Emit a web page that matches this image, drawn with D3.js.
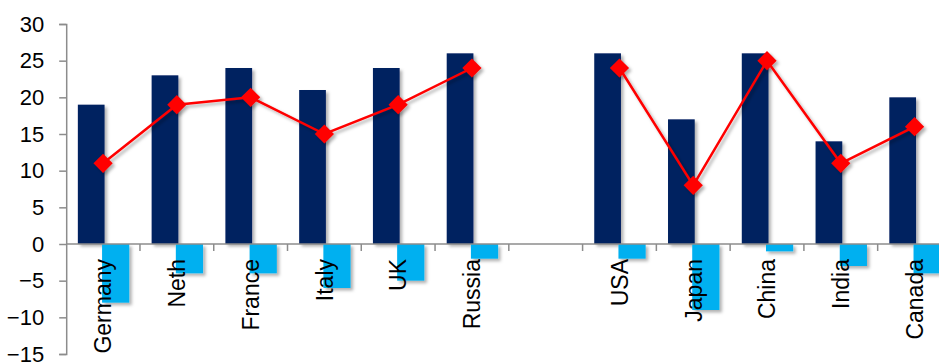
<!DOCTYPE html>
<html><head><meta charset="utf-8">
<script src="https://cdn.jsdelivr.net/npm/d3@7"></script>
<style>
html,body{margin:0;padding:0;background:#fff;overflow:hidden}
svg{display:block;font-family:"Liberation Sans",Arial,sans-serif}
</style></head>
<body><svg id="c" width="939" height="363"></svg>
<script>
const categories = ["Germany","Neth","France","Italy","UK","Russia","","USA","Japan","China","India","Canada"];
const seriesA = [19,23,24,21,24,26,null,26,17,26,14,20];      // navy bars
const seriesB = [-8,-4,-4,-6,-5,-2,null,-2,-9,-1,-3,-4];      // light blue bars
const seriesLine = [11,19,20,15,19,24,null,24,8,25,11,16];    // red line
const yTicks = [-15,-10,-5,0,5,10,15,20,25,30];

(function(){
const svg = d3.select("#c");
const mLeft = 66.2, mTop = 24, mBottom = 354;
const slot = 73.77;
const x = d3.scaleBand().domain(d3.range(categories.length)).range([mLeft, mLeft + slot*categories.length]).paddingInner(0).paddingOuter(0);
const y = d3.scaleLinear().domain([-15,30]).range([mBottom, mTop]);
const sub = d3.scaleBand().domain(["a","b"]).range([x.bandwidth()*0.158, x.bandwidth()*0.855]);

const defs = svg.append("defs");
const f = defs.append("filter").attr("id","sh").attr("x","-30%").attr("y","-30%").attr("width","160%").attr("height","160%");
f.append("feDropShadow").attr("dx",2.5).attr("dy",2.5).attr("stdDeviation",1.8).attr("flood-color","#000").attr("flood-opacity",0.3);

// y axis
const yAxis = svg.append("g").attr("transform",`translate(${mLeft},0)`)
  .call(d3.axisLeft(y).tickValues(yTicks).tickSize(7).tickPadding(15).tickFormat(d3.format("d")));
yAxis.select(".domain").attr("stroke","#8c8c8c").attr("stroke-width",1.5);
yAxis.selectAll(".tick line").attr("stroke","#8c8c8c").attr("stroke-width",1.5);
yAxis.selectAll(".tick text").attr("font-size",22).attr("fill","#000").attr("font-family","Liberation Sans, Arial, sans-serif");

const idx = d3.range(categories.length);

// bars
const gb = svg.append("g").attr("filter","url(#sh)");
const bw = sub.bandwidth();
gb.selectAll("rect.a").data(idx.filter(i=>seriesA[i]!=null)).join("rect")
  .attr("x",i=>x(i)+sub("a")).attr("width",bw+1)
  .attr("y",i=>y(seriesA[i])).attr("height",i=>y(0)-y(seriesA[i]))
  .attr("fill","#002060");
gb.selectAll("rect.b").data(idx.filter(i=>seriesB[i]!=null)).join("rect")
  .attr("x",i=>x(i)+sub("b")-1.5).attr("width",bw+1.5)
  .attr("y",y(0)).attr("height",i=>y(seriesB[i])-y(0))
  .attr("fill","#00b0f0");

// x axis (zero line)
const xAxis = svg.append("g").attr("transform",`translate(0,${y(0)})`);
xAxis.append("line").attr("x1",mLeft).attr("x2",mLeft+slot*categories.length).attr("stroke","#8c8c8c").attr("stroke-width",1.5);
xAxis.selectAll("line.t").data(d3.range(1,categories.length)).join("line")
  .attr("x1",i=>x(i)).attr("x2",i=>x(i)).attr("y1",0).attr("y2",7)
  .attr("stroke","#8c8c8c").attr("stroke-width",1.5);

// line
const pts = idx.filter(i=>seriesLine[i]!=null);
const gl = svg.append("g").attr("filter","url(#sh)");
const segs = [pts.filter(i=>i<6), pts.filter(i=>i>6)];
const line = d3.line().x(i=>x(i)+x.bandwidth()/2).y(i=>y(seriesLine[i]));
gl.selectAll("path.l").data(segs).join("path").attr("d",line)
  .attr("fill","none").attr("stroke","#ff0000").attr("stroke-width",2.5);
gl.selectAll("path.m").data(pts).join("path")
  .attr("d",d3.symbol().type(d3.symbolSquare).size(185))
  .attr("transform",i=>`translate(${x(i)+x.bandwidth()/2},${y(seriesLine[i])}) rotate(45)`)
  .attr("fill","#ff0000");

// category labels
svg.append("g").selectAll("text").data(idx.filter(i=>categories[i]!=="")).join("text")
  .attr("transform",i=>`translate(${x(i)+x.bandwidth()/2},${y(0)+15}) rotate(-90)`)
  .attr("text-anchor","end").attr("dy","0.36em")
  .attr("font-size",23).attr("fill","#000")
  .text(i=>categories[i]);
})();
</script></body></html>
